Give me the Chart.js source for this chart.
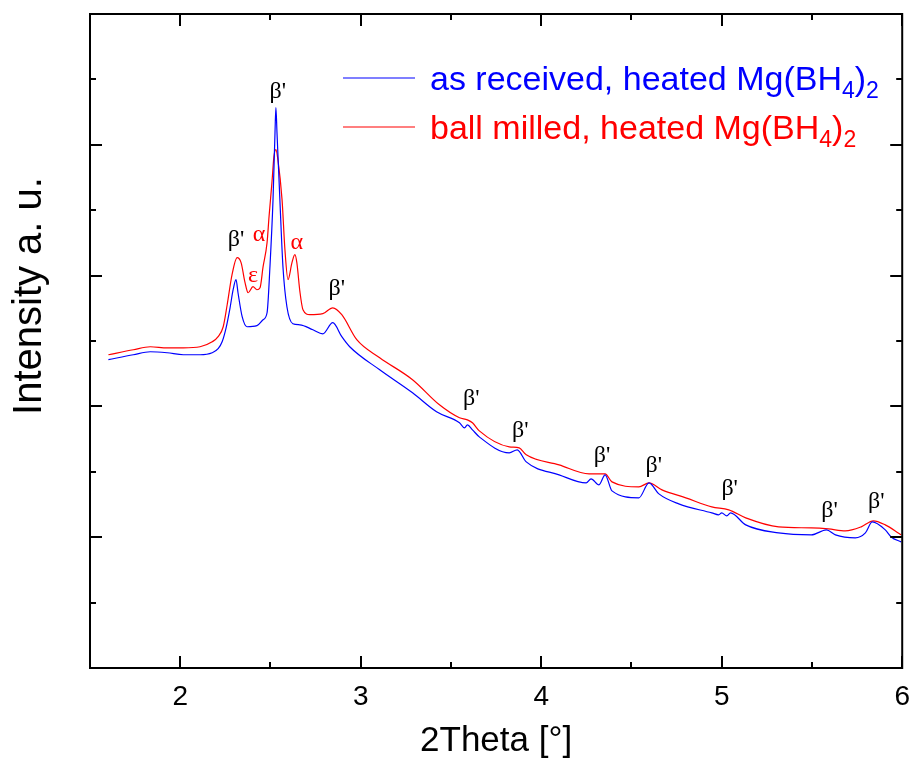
<!DOCTYPE html>
<html lang="en">
<head>
<meta charset="utf-8">
<title>XRD Mg(BH4)2</title>
<style>
  html, body { margin: 0; padding: 0; background: #fff; }
  #wrap { width: 914px; height: 767px; }
</style>
</head>
<body>
<div id="wrap"><canvas id="xrd" width="914" height="767"></canvas></div>
<script src="https://cdn.jsdelivr.net/npm/chart.js@4.4.1/dist/chart.umd.min.js"></script>
<script>
// as received, heated
const asReceivedTheta = [1.602, 1.740, 1.834, 1.928, 2.017, 2.110, 2.177, 2.210, 2.232, 2.254, 2.276, 2.293, 2.309, 2.320, 2.343, 2.370, 2.425, 2.459, 2.481, 2.497, 2.514, 2.525, 2.530, 2.536, 2.552, 2.569, 2.591, 2.624, 2.663, 2.735, 2.790, 2.845, 2.895, 2.939, 3.105, 3.287, 3.420, 3.547, 3.575, 3.591, 3.619, 3.657, 3.823, 3.867, 3.917, 4.099, 4.249, 4.276, 4.320, 4.354, 4.392, 4.541, 4.597, 4.652, 4.762, 4.945, 4.983, 5.000, 5.028, 5.049, 5.133, 5.315, 5.497, 5.580, 5.630, 5.740, 5.796, 5.834, 5.906, 5.939, 5.994];
const asReceivedI = [2.357, 2.395, 2.418, 2.410, 2.395, 2.395, 2.410, 2.441, 2.494, 2.601, 2.754, 2.892, 2.969, 2.869, 2.686, 2.609, 2.617, 2.663, 2.716, 3.068, 3.581, 4.093, 4.285, 4.093, 3.581, 3.068, 2.762, 2.632, 2.624, 2.586, 2.555, 2.640, 2.533, 2.456, 2.280, 2.104, 1.959, 1.875, 1.836, 1.859, 1.821, 1.767, 1.645, 1.668, 1.576, 1.477, 1.415, 1.446, 1.400, 1.477, 1.354, 1.301, 1.415, 1.331, 1.255, 1.186, 1.171, 1.186, 1.163, 1.186, 1.094, 1.033, 1.018, 1.056, 1.018, 0.995, 1.033, 1.117, 1.056, 1.002, 0.964];

// ball milled, heated
const ballMilledTheta = [1.602, 1.740, 1.834, 1.928, 2.017, 2.110, 2.177, 2.210, 2.238, 2.260, 2.287, 2.315, 2.337, 2.359, 2.376, 2.403, 2.425, 2.442, 2.459, 2.481, 2.492, 2.508, 2.519, 2.530, 2.541, 2.564, 2.580, 2.597, 2.619, 2.635, 2.646, 2.663, 2.680, 2.718, 2.790, 2.845, 2.895, 2.978, 3.105, 3.287, 3.436, 3.547, 3.591, 3.619, 3.657, 3.823, 3.878, 3.917, 4.099, 4.265, 4.354, 4.392, 4.541, 4.597, 4.669, 4.801, 4.945, 5.039, 5.133, 5.315, 5.497, 5.591, 5.685, 5.773, 5.840, 5.906, 5.978, 5.994];
const ballMilledI = [2.395, 2.433, 2.456, 2.448, 2.448, 2.456, 2.494, 2.533, 2.609, 2.777, 3.007, 3.137, 3.099, 2.946, 2.869, 2.915, 2.892, 2.907, 3.068, 3.252, 3.451, 3.711, 3.910, 3.963, 3.887, 3.581, 3.198, 2.969, 3.099, 3.160, 3.099, 2.877, 2.739, 2.701, 2.709, 2.754, 2.701, 2.510, 2.372, 2.204, 2.012, 1.913, 1.897, 1.875, 1.813, 1.691, 1.683, 1.630, 1.553, 1.484, 1.484, 1.423, 1.385, 1.415, 1.362, 1.301, 1.232, 1.209, 1.148, 1.079, 1.071, 1.063, 1.048, 1.079, 1.125, 1.094, 1.033, 1.018];

// phase labels placed over the peaks
const peakText  = ["β'", "β'", "α", "ε", "α", "β'", "β'", "β'", "β'", "β'", "β'", "β'", "β'"];
const peakTheta = [2.541, 2.309, 2.437, 2.403, 2.646, 2.867, 3.613, 3.884, 4.337, 4.624, 5.044, 5.597, 5.856];
const peakI     = [4.407, 3.275, 3.313, 2.999, 3.252, 2.900, 2.058, 1.813, 1.622, 1.546, 1.370, 1.201, 1.270];

const seriesNames = ['as received, heated Mg(BH', 'ball milled, heated Mg(BH'];
const seriesColors = ['#0000ff', '#ff0000'];

function pts(xs, ys) {
  return xs.map((x, i) => ({ x: x, y: ys[i] }));
}

// frame, inward ticks, peak labels, legend, y title
const decor = {
  id: 'decor',
  afterDatasetsDraw(chart) {
    const ctx = chart.ctx;
    const a = chart.chartArea;
    const xs = chart.scales.x, ys = chart.scales.y;
    ctx.save();
    ctx.strokeStyle = '#000';
    ctx.lineWidth = 2;
    ctx.strokeRect(a.left, a.top, a.right - a.left, a.bottom - a.top);

    ctx.beginPath();
    xs.ticks.forEach(t => {
      const p = Math.round(xs.getPixelForValue(t.value));
      const len = Number.isInteger(t.value) ? 12 : 6;
      ctx.moveTo(p, a.bottom); ctx.lineTo(p, a.bottom - len);
      ctx.moveTo(p, a.top); ctx.lineTo(p, a.top + len);
    });
    ys.ticks.forEach(t => {
      const p = Math.round(ys.getPixelForValue(t.value));
      const len = Number.isInteger(t.value) ? 12 : 6;
      ctx.moveTo(a.left, p); ctx.lineTo(a.left + len, p);
      ctx.moveTo(a.right, p); ctx.lineTo(a.right - len, p);
    });
    ctx.stroke();

    // phase labels
    ctx.font = '24px "Liberation Serif", "DejaVu Serif", serif';
    ctx.textAlign = 'center';
    ctx.textBaseline = 'middle';
    peakText.forEach((s, i) => {
      ctx.fillStyle = s === "β'" ? '#000' : '#ff0000';
      ctx.fillText(s, xs.getPixelForValue(peakTheta[i]), ys.getPixelForValue(peakI[i]));
    });

    // legend with subscripts
    const fs = 34, sub = 23;
    const lx = a.left + 253, tx = a.left + 340;
    seriesNames.forEach((name, i) => {
      const ly = a.top + 64 + i * 49;
      ctx.strokeStyle = seriesColors[i];
      ctx.lineWidth = 1.2;
      ctx.beginPath(); ctx.moveTo(lx, ly); ctx.lineTo(lx + 72, ly); ctx.stroke();
      ctx.fillStyle = seriesColors[i];
      ctx.textAlign = 'left';
      ctx.textBaseline = 'alphabetic';
      const base = ly + 12;
      let x = tx;
      ctx.font = fs + 'px "Liberation Sans", Arial, sans-serif';
      ctx.fillText(name, x, base); x += ctx.measureText(name).width;
      ctx.font = sub + 'px "Liberation Sans", Arial, sans-serif';
      ctx.fillText('4', x, base + 8); x += ctx.measureText('4').width;
      ctx.font = fs + 'px "Liberation Sans", Arial, sans-serif';
      ctx.fillText(')', x, base); x += ctx.measureText(')').width;
      ctx.font = sub + 'px "Liberation Sans", Arial, sans-serif';
      ctx.fillText('2', x, base + 8);
    });

    // y axis title
    ctx.translate(30, 296);
    ctx.rotate(-Math.PI / 2);
    ctx.font = '40px "Liberation Sans", Arial, sans-serif';
    ctx.fillStyle = '#000';
    ctx.textAlign = 'center';
    ctx.textBaseline = 'middle';
    ctx.fillText('Intensity a. u.', 0, 0);
    ctx.restore();
  }
};

const lineOpts = { showLine: true, pointRadius: 0, borderWidth: 1.2, cubicInterpolationMode: 'monotone', fill: false };

new Chart(document.getElementById('xrd'), {
  type: 'scatter',
  data: {
    datasets: [
      Object.assign({ label: 'as received', data: pts(asReceivedTheta, asReceivedI), borderColor: seriesColors[0] }, lineOpts),
      Object.assign({ label: 'ball milled', data: pts(ballMilledTheta, ballMilledI), borderColor: seriesColors[1] }, lineOpts)
    ]
  },
  options: {
    responsive: false,
    animation: false,
    layout: { autoPadding: false, padding: { top: 14, right: 10, left: 0, bottom: 0 } },
    plugins: { legend: { display: false }, tooltip: { enabled: false } },
    scales: {
      x: {
        type: 'linear', min: 1.5, max: 6,
        grid: { display: false }, border: { display: false },
        ticks: {
          stepSize: 0.5, padding: 4, color: '#000',
          font: { family: '"Liberation Sans", Arial, sans-serif', size: 28 },
          callback: v => Number.isInteger(v) ? String(v) : ''
        },
        title: { display: true, text: '2Theta [°]', color: '#000', padding: { top: 0, bottom: 5 },
                 font: { family: '"Liberation Sans", Arial, sans-serif', size: 35 } },
        afterFit: s => { s.height = 99; }
      },
      y: {
        type: 'linear', min: 0, max: 5,
        grid: { display: false }, border: { display: false },
        ticks: { display: false, stepSize: 0.5 },
        afterFit: s => { s.width = 90; }
      }
    }
  },
  plugins: [decor]
});
</script>
</body>
</html>
